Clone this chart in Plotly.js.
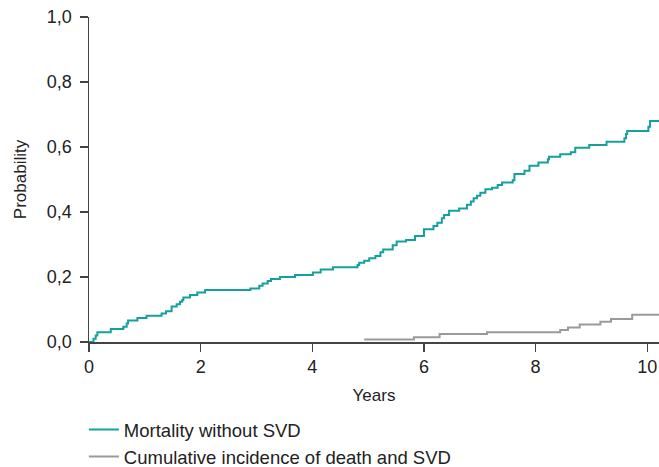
<!DOCTYPE html>
<html>
<head>
<meta charset="utf-8">
<script src="https://cdn.plot.ly/plotly-3.0.1.min.js"></script>
<style>html,body{margin:0;padding:0;background:#fff;}#chart{width:659px;height:467px;}</style>
</head>
<body>
<div id="chart"></div>
<script>
// Mortality without SVD (step function: time in years, probability)
const mortYears = [0, 0.08, 0.12, 0.15, 0.39, 0.615, 0.675, 0.70, 0.867, 1.03, 1.30, 1.38, 1.48, 1.57, 1.63, 1.67, 1.69, 1.81, 1.94, 2.08,
  2.89, 3.05, 3.11, 3.20, 3.26, 3.42, 3.69, 4.01, 4.15, 4.37, 4.81, 4.84, 4.93, 5.02, 5.13, 5.22, 5.27, 5.44, 5.51, 5.68, 5.84,
  6.00, 6.17, 6.24, 6.32, 6.36, 6.45, 6.63, 6.77, 6.84, 6.89, 6.95, 7.01, 7.10, 7.22, 7.32, 7.40, 7.59, 7.62, 7.80, 7.89,
  8.05, 8.22, 8.24, 8.44, 8.63, 8.71, 8.96, 9.27, 9.59, 9.62, 9.64, 10.02, 10.05, 10.21];
const mortProb = [0, 0.01, 0.02, 0.03, 0.04, 0.047, 0.057, 0.066, 0.074, 0.081, 0.088, 0.095, 0.109, 0.116, 0.124, 0.129, 0.137, 0.145, 0.152, 0.160,
  0.165, 0.173, 0.180, 0.188, 0.194, 0.200, 0.206, 0.214, 0.223, 0.230, 0.237, 0.244, 0.250, 0.258, 0.265, 0.276, 0.285, 0.298, 0.309, 0.314, 0.326,
  0.347, 0.357, 0.367, 0.381, 0.391, 0.404, 0.411, 0.422, 0.432, 0.442, 0.450, 0.459, 0.470, 0.475, 0.483, 0.491, 0.498, 0.517, 0.527, 0.542,
  0.552, 0.562, 0.570, 0.578, 0.584, 0.598, 0.606, 0.616, 0.627, 0.640, 0.649, 0.662, 0.680, 0.680];

// Cumulative incidence of death and SVD
const svdYears = [4.93, 5.82, 6.28, 7.13, 8.44, 8.58, 8.79, 9.16, 9.35, 9.73, 10.21];
const svdProb  = [0.008, 0.015, 0.025, 0.030, 0.037, 0.045, 0.054, 0.062, 0.071, 0.084, 0.084];

const seriesNames = ['Mortality without SVD', 'Cumulative incidence of death and SVD'];
const xTicks = [0, 2, 4, 6, 8, 10];
const yTicks = [0, 0.2, 0.4, 0.6, 0.8, 1.0];

const axisColor = '#444444';
const textColor = '#222222';
const fontFam = '"Liberation Sans", Arial, Helvetica, sans-serif';

const traces = [
  {x: mortYears, y: mortProb, type: 'scatter', mode: 'lines', name: seriesNames[0],
   line: {shape: 'hv', color: '#14a19e', width: 2}},
  {x: svdYears, y: svdProb, type: 'scatter', mode: 'lines', name: seriesNames[1],
   line: {shape: 'hv', color: '#9a9a9a', width: 2}}
];

const layout = {
  width: 659, height: 467,
  margin: {l: 89, r: 0, t: 17, b: 125, autoexpand: false},
  paper_bgcolor: '#fff', plot_bgcolor: '#fff',
  separators: ',.',
  font: {family: fontFam, size: 17, color: textColor},
  showlegend: true,
  legend: {x: -0.009, xanchor: 'left', y: -0.2123, yanchor: 'top', traceorder: 'normal',
           font: {size: 18.5, color: textColor}, bgcolor: 'rgba(0,0,0,0)'},
  xaxis: {range: [0, 10.21], tickvals: xTicks, ticks: 'outside', ticklen: 8, tickwidth: 1.5, tickcolor: axisColor,
          showline: true, linecolor: axisColor, linewidth: 1.5, showgrid: false, zeroline: false,
          tickfont: {size: 18, color: textColor},
          title: {text: 'Years', font: {size: 17, color: textColor}, standoff: 13}},
  yaxis: {range: [0, 1], tickvals: yTicks, tickformat: '.1f', ticks: 'outside', ticklen: 8, tickwidth: 1.5, tickcolor: axisColor,
          showline: true, linecolor: axisColor, linewidth: 1.5, showgrid: false, zeroline: false,
          ticklabelstandoff: 4,
          tickfont: {size: 18, color: textColor},
          title: {text: 'Probability', font: {size: 17, color: textColor}, standoff: 16}}
};

Plotly.newPlot('chart', traces, layout, {displayModeBar: false, staticPlot: true});
</script>
</body>
</html>
